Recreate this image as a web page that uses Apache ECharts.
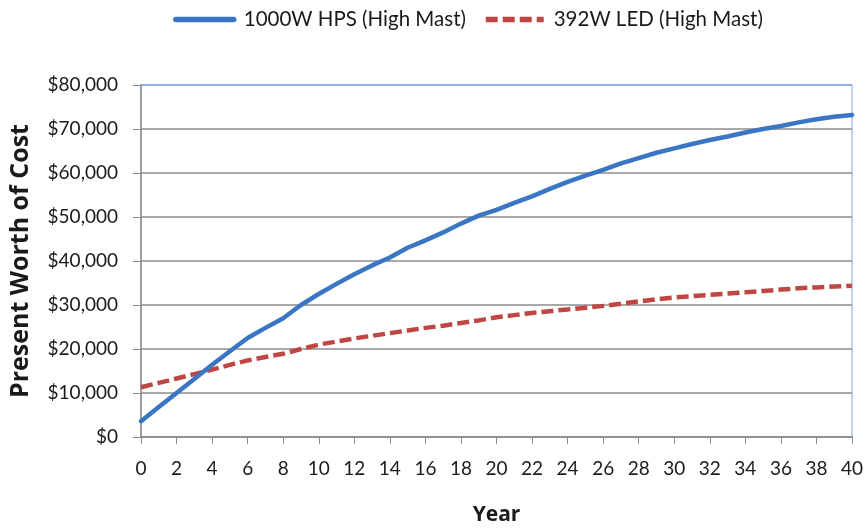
<!DOCTYPE html>
<html>
<head>
<meta charset="utf-8">
<script src="https://cdn.jsdelivr.net/npm/echarts@6/dist/echarts.min.js"></script>
<style>
  html, body { margin: 0; padding: 0; background: #fff; }
  #chart { width: 867px; height: 531px; }
</style>
</head>
<body>
<div id="chart"></div>
<script>
// Present worth of lighting cost over a 40-year life
const years = [];
for (let y = 0; y <= 40; y++) years.push(y);

const seriesNames = ['1000W HPS (High Mast)', '392W LED (High Mast)'];

const hpsCost = [
  3600, 6800, 10000, 13200, 16400, 19500, 22500, 24800, 27000, 30000,
  32500, 34800, 37000, 39000, 40800, 43000, 44700, 46500, 48500, 50300,
  51600, 53200, 54700, 56400, 58000, 59400, 60700, 62200, 63400, 64600,
  65600, 66600, 67500, 68300, 69200, 70000, 70700, 71500, 72200, 72800,
  73200
];

const ledCost = [
  11300, 12300, 13300, 14300, 15300, 16400, 17400, 18200, 18900, 20000,
  21000, 21700, 22400, 23000, 23600, 24200, 24800, 25300, 25900, 26500,
  27200, 27700, 28200, 28600, 29000, 29400, 29800, 30300, 30800, 31300,
  31700, 32000, 32300, 32600, 32900, 33200, 33500, 33800, 34000, 34200,
  34400
];

const xTitle = 'Year';
const yTitle = 'Present Worth of Cost';

const pair = (xs, vs) => xs.map((x, i) => [x, vs[i]]);
const money = v => '$' + v.toLocaleString('en-US');

const gridColor = '#8c8c8c';
const frameBlue = '#7ea6dc';
// split lines at $0..$80,000; the top one takes the frame colour
const splitColors = [gridColor, gridColor, gridColor, gridColor, gridColor,
                     gridColor, gridColor, gridColor, frameBlue];

const chart = echarts.init(document.getElementById('chart'), null, { renderer: 'canvas' });
chart.setOption({
  animation: false,
  backgroundColor: '#ffffff',
  textStyle: { fontFamily: 'Lato' },
  legend: {
    top: 4,
    left: 168,
    itemWidth: 58,
    itemHeight: 20,
    itemGap: 17,
    itemStyle: { opacity: 0 },
    lineStyle: { width: 5.5 },
    textStyle: { fontFamily: 'Lato', fontSize: 20.5, color: '#1a1a1a', padding: [0, 0, 0, 5] },
    data: seriesNames
  },
  grid: {
    left: 141, right: 15, top: 85, bottom: 92,
    show: true, borderColor: frameBlue, borderWidth: 1, backgroundColor: 'transparent'
  },
  xAxis: {
    type: 'value',
    min: 0, max: 40, interval: 2,
    name: xTitle,
    nameLocation: 'middle',
    nameGap: 68,
    nameTextStyle: { fontFamily: 'Open Sans', fontWeight: 'bold', fontSize: 21, color: '#1a1a1a' },
    axisLine: { show: true, lineStyle: { color: gridColor, width: 1.5 } },
    axisTick: { show: true, length: 7, lineStyle: { color: gridColor } },
    axisLabel: { fontFamily: 'Lato', fontSize: 19, color: '#1a1a1a', margin: 22 },
    splitLine: { show: false }
  },
  yAxis: {
    type: 'value',
    min: 0, max: 80000, interval: 10000,
    name: yTitle,
    nameLocation: 'middle',
    nameGap: 108,
    nameRotate: 90,
    nameTextStyle: { fontFamily: 'Open Sans', fontWeight: 'bold', fontSize: 25, color: '#1a1a1a' },
    axisLine: { show: true, lineStyle: { color: gridColor, width: 1.5 } },
    axisTick: { show: true, length: 8, lineStyle: { color: gridColor } },
    axisLabel: { fontFamily: 'Lato', fontSize: 19, color: '#1a1a1a', margin: 23, formatter: money },
    splitLine: { show: true, lineStyle: { color: splitColors, width: 1.5 } }
  },
  series: [
    {
      name: seriesNames[0],
      type: 'line',
      data: pair(years, hpsCost),
      showSymbol: false,
      symbol: 'none',
      smooth: false,
      lineStyle: { color: '#3a76c3', width: 4.5, cap: 'round', join: 'round' },
      itemStyle: { color: '#3a76c3' },
      z: 3
    },
    {
      name: seriesNames[1],
      type: 'line',
      data: pair(years, ledCost),
      showSymbol: false,
      symbol: 'none',
      smooth: false,
      lineStyle: { color: '#be4744', width: 4.5, type: [12, 5] },
      itemStyle: { color: '#be4744' },
      z: 2
    }
  ]
});
</script>
</body>
</html>
